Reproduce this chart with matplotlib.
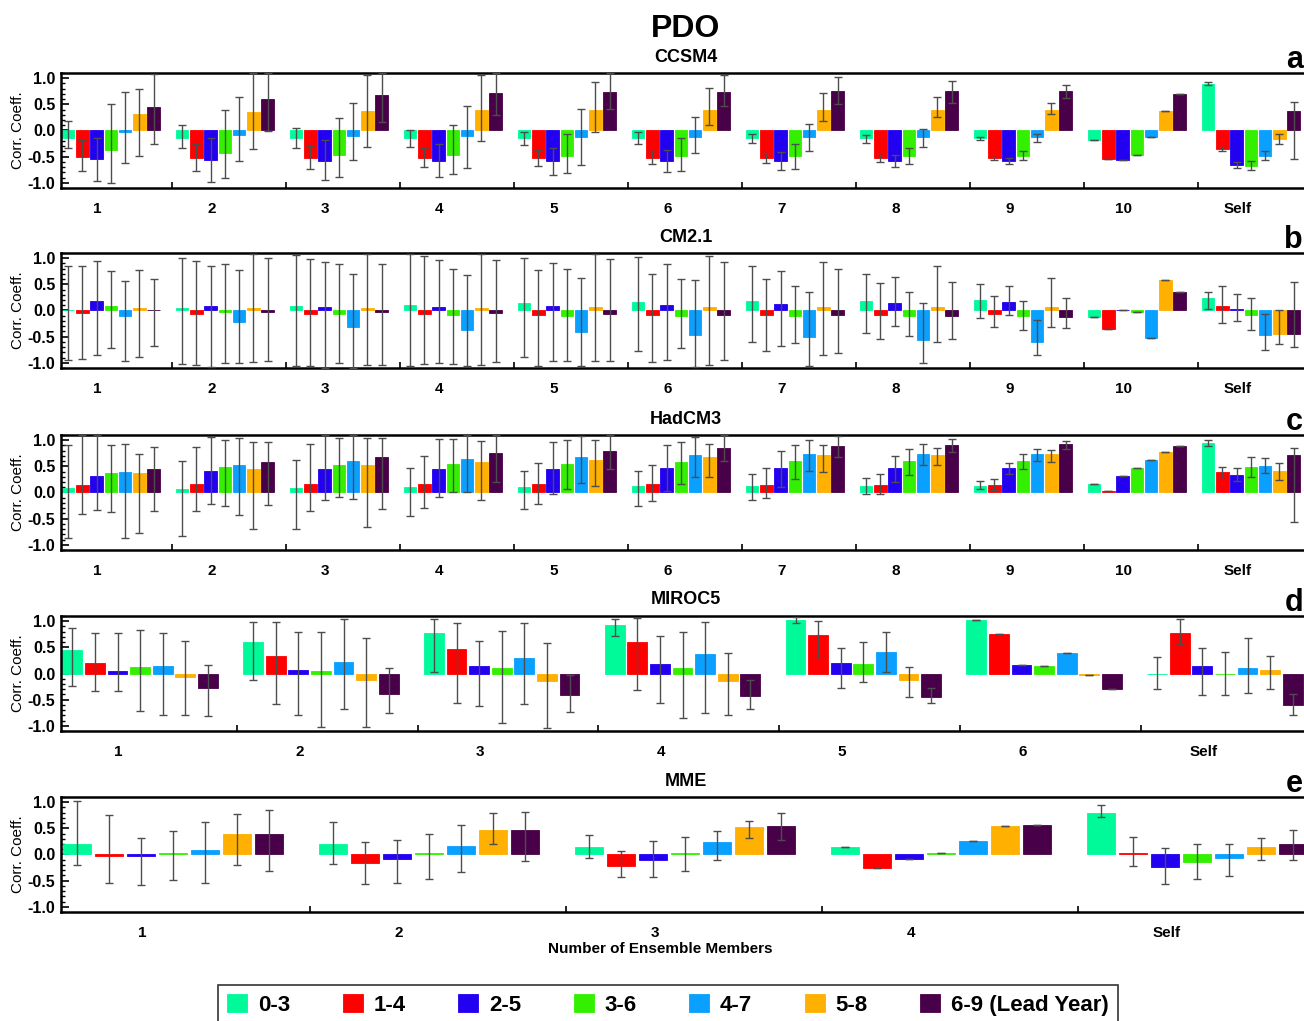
import matplotlib
matplotlib.use('Agg')
import matplotlib.pyplot as plt
import numpy as np
from matplotlib.ticker import MultipleLocator, FixedLocator

plt.rcParams['font.family'] = ['Liberation Sans', 'DejaVu Sans']
plt.rcParams['font.weight'] = 'bold'
plt.rcParams['axes.unicode_minus'] = False

# lead-year windows and colours
leads = ['0-3', '1-4', '2-5', '3-6', '4-7', '5-8', '6-9 (Lead Year)']
colors = ['#00FA9A', '#FF0000', '#2200F0', '#33F000', '#0AA0FF', '#FFB000', '#480048']

groups_11 = ['1', '2', '3', '4', '5', '6', '7', '8', '9', '10', 'Self']
groups_7 = ['1', '2', '3', '4', '5', '6', 'Self']
groups_5 = ['1', '2', '3', '4', 'Self']

# CCSM4
vals_a = [[-0.14, -0.51, -0.55, -0.37, -0.03, 0.31, 0.44],
          [-0.14, -0.52, -0.56, -0.43, -0.08, 0.35, 0.61],
          [-0.14, -0.52, -0.59, -0.46, -0.10, 0.38, 0.68],
          [-0.14, -0.52, -0.59, -0.47, -0.11, 0.39, 0.71],
          [-0.15, -0.52, -0.59, -0.48, -0.12, 0.39, 0.73],
          [-0.14, -0.53, -0.59, -0.48, -0.12, 0.39, 0.73],
          [-0.15, -0.53, -0.59, -0.48, -0.12, 0.39, 0.75],
          [-0.15, -0.53, -0.59, -0.48, -0.12, 0.39, 0.75],
          [-0.15, -0.53, -0.59, -0.49, -0.13, 0.39, 0.75],
          [-0.19, -0.54, -0.57, -0.47, -0.12, 0.37, 0.70],
          [0.89, -0.36, -0.66, -0.68, -0.48, -0.17, 0.37]]
hi_a = [[0.18, -0.18, -0.14, 0.50, 0.73, 0.79, 1.08],
        [0.10, -0.25, -0.15, 0.39, 0.64, 1.10, 1.10],
        [0.05, -0.30, -0.19, 0.24, 0.53, 1.06, 1.10],
        [0.01, -0.33, -0.26, 0.10, 0.46, 1.07, 1.10],
        [-0.03, -0.37, -0.33, -0.06, 0.42, 0.93, 1.10],
        [-0.02, -0.40, -0.37, -0.15, 0.26, 0.81, 1.06],
        [-0.06, -0.44, -0.41, -0.26, 0.13, 0.72, 1.02],
        [-0.08, -0.46, -0.47, -0.33, 0.03, 0.64, 0.95],
        [-0.12, -0.50, -0.52, -0.39, -0.06, 0.53, 0.87],
        [-0.19, -0.54, -0.57, -0.47, -0.12, 0.37, 0.70],
        [0.93, -0.32, -0.60, -0.59, -0.39, -0.06, 0.55]]
lo_a = [[-0.33, -0.77, -0.97, -1.00, -0.62, -0.48, -0.26],
        [-0.33, -0.78, -0.99, -0.91, -0.59, -0.35, -0.01],
        [-0.33, -0.73, -0.94, -0.89, -0.57, -0.32, 0.17],
        [-0.31, -0.70, -0.89, -0.84, -0.72, -0.20, 0.29],
        [-0.28, -0.68, -0.85, -0.81, -0.66, -0.03, 0.41],
        [-0.26, -0.65, -0.80, -0.77, -0.43, 0.10, 0.46],
        [-0.24, -0.63, -0.75, -0.73, -0.39, 0.19, 0.51],
        [-0.23, -0.60, -0.70, -0.64, -0.31, 0.26, 0.53],
        [-0.19, -0.57, -0.65, -0.56, -0.22, 0.31, 0.63],
        [-0.19, -0.54, -0.57, -0.47, -0.12, 0.37, 0.70],
        [0.87, -0.40, -0.71, -0.75, -0.56, -0.25, -0.55]]

# CM2.1
vals_b = [[0.00, -0.04, 0.18, 0.09, -0.11, 0.05, 0.00],
          [0.05, -0.06, 0.09, -0.03, -0.22, 0.04, -0.02],
          [0.08, -0.06, 0.07, -0.07, -0.31, 0.04, -0.03],
          [0.11, -0.06, 0.07, -0.08, -0.37, 0.04, -0.05],
          [0.14, -0.08, 0.08, -0.10, -0.42, 0.06, -0.07],
          [0.16, -0.08, 0.10, -0.11, -0.47, 0.06, -0.08],
          [0.18, -0.08, 0.12, -0.11, -0.51, 0.06, -0.09],
          [0.19, -0.08, 0.15, -0.11, -0.56, 0.06, -0.11],
          [0.20, -0.06, 0.17, -0.11, -0.61, 0.06, -0.13],
          [-0.12, -0.36, 0.01, -0.03, -0.53, 0.58, 0.36],
          [0.23, 0.09, 0.02, -0.08, -0.46, -0.45, -0.45]]
hi_b = [[0.85, 0.86, 0.94, 0.75, 0.56, 0.77, 0.61],
        [1.00, 0.94, 0.85, 0.89, 0.77, 1.08, 1.00],
        [1.06, 0.99, 0.92, 0.88, 0.70, 1.08, 0.88],
        [1.08, 1.05, 0.96, 0.80, 0.68, 1.08, 0.97],
        [1.01, 0.77, 0.90, 0.79, 0.63, 1.08, 0.98],
        [1.03, 0.70, 0.88, 0.61, 0.59, 1.04, 0.92],
        [0.85, 0.61, 0.75, 0.47, 0.36, 0.93, 0.80],
        [0.70, 0.53, 0.64, 0.35, 0.15, 0.85, 0.54],
        [0.51, 0.28, 0.47, 0.19, -0.18, 0.63, 0.23],
        [-0.12, -0.36, 0.01, -0.03, -0.53, 0.58, 0.36],
        [0.35, 0.47, 0.32, 0.23, -0.06, 0.01, 0.55]]
lo_b = [[-0.94, -0.92, -0.85, -0.72, -0.96, -0.89, -0.68],
        [-1.03, -1.04, -1.08, -1.01, -1.01, -0.99, -0.96],
        [-1.06, -1.06, -1.10, -1.01, -1.10, -1.04, -1.05],
        [-1.06, -1.03, -1.01, -1.03, -1.06, -1.04, -0.98],
        [-0.89, -1.06, -0.96, -0.96, -1.07, -0.97, -0.96],
        [-0.78, -0.98, -0.94, -0.72, -1.08, -1.04, -0.94],
        [-0.61, -0.78, -0.67, -0.62, -1.07, -0.85, -0.82],
        [-0.44, -0.54, -0.30, -0.48, -1.00, -0.60, -0.55],
        [-0.15, -0.32, -0.08, -0.37, -0.85, -0.31, -0.34],
        [-0.12, -0.36, 0.01, -0.03, -0.53, 0.58, 0.36],
        [0.03, -0.23, -0.20, -0.37, -0.75, -0.65, -0.69]]

# HadCM3
vals_c = [[0.08, 0.145, 0.32, 0.37, 0.40, 0.38, 0.44],
          [0.07, 0.17, 0.42, 0.48, 0.52, 0.45, 0.58],
          [0.09, 0.17, 0.45, 0.53, 0.60, 0.52, 0.68],
          [0.10, 0.17, 0.45, 0.55, 0.65, 0.59, 0.76],
          [0.11, 0.16, 0.45, 0.55, 0.68, 0.63, 0.80],
          [0.12, 0.16, 0.46, 0.58, 0.71, 0.68, 0.86],
          [0.12, 0.15, 0.46, 0.60, 0.73, 0.71, 0.89],
          [0.12, 0.15, 0.46, 0.60, 0.73, 0.72, 0.90],
          [0.12, 0.15, 0.46, 0.60, 0.74, 0.73, 0.92],
          [0.17, 0.02, 0.32, 0.46, 0.63, 0.77, 0.88],
          [0.94, 0.40, 0.33, 0.49, 0.51, 0.42, 0.71]]
hi_c = [[0.90, 1.10, 1.10, 0.91, 0.92, 0.74, 0.87],
        [0.61, 0.87, 1.06, 1.01, 1.04, 0.97, 0.96],
        [0.62, 0.92, 1.10, 1.05, 1.10, 1.05, 1.05],
        [0.47, 0.70, 1.03, 1.03, 1.10, 0.99, 1.10],
        [0.42, 0.57, 0.96, 1.01, 1.08, 1.00, 1.10],
        [0.42, 0.53, 0.90, 0.96, 1.06, 0.93, 1.10],
        [0.36, 0.46, 0.80, 0.91, 1.01, 0.90, 1.08],
        [0.28, 0.36, 0.70, 0.83, 0.93, 0.86, 1.03],
        [0.22, 0.25, 0.57, 0.74, 0.83, 0.81, 0.99],
        [0.17, 0.02, 0.32, 0.46, 0.63, 0.77, 0.88],
        [1.01, 0.49, 0.46, 0.67, 0.66, 0.57, 0.85]]
lo_c = [[-0.87, -0.41, -0.33, -0.37, -0.88, -0.77, -0.35],
        [-0.84, -0.36, -0.22, -0.25, -0.44, -0.69, -0.23],
        [-0.69, -0.36, -0.15, -0.09, -0.12, -0.66, -0.32],
        [-0.45, -0.29, -0.08, 0.00, 0.00, -0.14, 0.20],
        [-0.32, -0.22, -0.02, 0.07, 0.18, 0.12, 0.45],
        [-0.26, -0.17, 0.03, 0.16, 0.30, 0.29, 0.61],
        [-0.15, -0.10, 0.10, 0.26, 0.42, 0.40, 0.67],
        [-0.02, -0.02, 0.21, 0.34, 0.53, 0.53, 0.78],
        [0.06, 0.04, 0.35, 0.44, 0.61, 0.58, 0.83],
        [0.17, 0.02, 0.32, 0.46, 0.63, 0.77, 0.88],
        [0.88, 0.30, 0.22, 0.30, 0.37, 0.24, -0.56]]

# MIROC5
vals_d = [[0.45, 0.21, 0.04, 0.12, 0.15, -0.06, -0.28],
          [0.61, 0.33, 0.07, 0.05, 0.22, -0.12, -0.39],
          [0.78, 0.47, 0.14, 0.10, 0.29, -0.15, -0.41],
          [0.92, 0.60, 0.19, 0.11, 0.37, -0.14, -0.43],
          [1.02, 0.73, 0.21, 0.18, 0.41, -0.13, -0.44],
          [1.02, 0.75, 0.17, 0.15, 0.39, -0.03, -0.30],
          [0.00, 0.78, 0.14, -0.01, 0.11, 0.06, -0.61]]
hi_d = [[0.88, 0.77, 0.77, 0.84, 0.77, 0.63, 0.16],
        [0.99, 0.99, 0.80, 0.80, 1.04, 0.68, 0.11],
        [1.05, 0.97, 0.63, 0.82, 0.97, 0.58, -0.02],
        [1.04, 1.06, 0.71, 0.80, 0.99, 0.39, -0.12],
        [1.08, 1.00, 0.49, 0.60, 0.80, 0.13, -0.27],
        [1.02, 0.75, 0.17, 0.15, 0.39, -0.03, -0.30],
        [0.31, 1.04, 0.49, 0.41, 0.67, 0.33, -0.40]]
lo_d = [[-0.24, -0.34, -0.34, -0.71, -0.79, -0.80, -0.82],
        [-0.12, -0.58, -0.79, -1.03, -0.67, -1.02, -0.75],
        [0.03, -0.56, -0.62, -0.95, -0.58, -1.04, -0.74],
        [0.71, -0.31, -0.57, -0.86, -0.75, -0.79, -0.68],
        [0.96, 0.32, -0.27, -0.16, 0.03, -0.44, -0.56],
        [1.02, 0.75, 0.17, 0.15, 0.39, -0.03, -0.30],
        [-0.30, 0.56, -0.41, -0.41, -0.37, -0.29, -0.79]]

# MME
vals_e = [[0.21, -0.02, -0.02, 0.02, 0.09, 0.40, 0.39],
          [0.20, -0.16, -0.09, 0.02, 0.16, 0.47, 0.47],
          [0.15, -0.22, -0.10, 0.02, 0.23, 0.52, 0.54],
          [0.14, -0.25, -0.09, 0.03, 0.26, 0.55, 0.57],
          [0.79, 0.02, -0.23, -0.14, -0.07, 0.14, 0.21]]
hi_e = [[1.02, 0.75, 0.31, 0.44, 0.62, 0.77, 0.85],
        [0.62, 0.23, 0.28, 0.39, 0.57, 0.80, 0.82],
        [0.38, 0.07, 0.26, 0.33, 0.44, 0.65, 0.79],
        [0.14, -0.25, -0.09, 0.03, 0.26, 0.55, 0.57],
        [0.95, 0.33, 0.12, 0.21, 0.21, 0.31, 0.46]]
lo_e = [[-0.20, -0.55, -0.59, -0.48, -0.54, -0.21, -0.32],
        [-0.19, -0.56, -0.54, -0.46, -0.33, 0.20, -0.13],
        [-0.07, -0.44, -0.44, -0.32, -0.11, 0.32, 0.27],
        [0.14, -0.25, -0.09, 0.03, 0.26, 0.55, 0.57],
        [0.71, -0.22, -0.57, -0.47, -0.41, -0.11, -0.11]]

W, H = 1304, 1021
fig = plt.figure(figsize=(W / 100, H / 100), dpi=100)

panels = [('CCSM4', 'a', groups_11, vals_a, lo_a, hi_a, 14.25, 73),
          ('CM2.1', 'b', groups_11, vals_b, lo_b, hi_b, 14.25, 253),
          ('HadCM3', 'c', groups_11, vals_c, lo_c, hi_c, 14.25, 435),
          ('MIROC5', 'd', groups_7, vals_d, lo_d, hi_d, 22.6, 616),
          ('MME', 'e', groups_5, vals_e, lo_e, hi_e, 32.0, 797)]
ax_h = 115

handles = None
for name, letter, groups, vals, lo, hi, px, top in panels:
    n = len(groups)
    # axes run past the right edge of the figure, as in the original
    ax = fig.add_axes([61 / W, 1 - (top + ax_h) / H, n * 8 * px / W, ax_h / H])
    v = np.array(vals)
    l = np.array(lo)
    h = np.array(hi)
    bars = []
    for j in range(7):
        x = np.arange(n) * 8 + j + 0.5
        b = ax.bar(x, v[:, j], width=0.88, color=colors[j], edgecolor=colors[j],
                   linewidth=0.6, zorder=2)
        bars.append(b)
        yerr = [np.clip(v[:, j] - l[:, j], 0, None), np.clip(h[:, j] - v[:, j], 0, None)]
        ax.errorbar(x, v[:, j], yerr=yerr, fmt='none', ecolor='#4d4d4d',
                    elinewidth=1.0, capsize=3, capthick=1.0, zorder=3)
    if handles is None:
        handles = bars

    ax.set_xlim(0, n * 8)
    ax.set_ylim(-1.1, 1.1)
    ax.set_xticks(np.arange(n) * 8 + 2.55)
    ax.set_xticklabels(groups)
    ax.xaxis.set_minor_locator(FixedLocator(np.arange(1, n) * 8 - 0.22))
    ax.tick_params(axis='x', which='major', length=0, pad=10, labelsize=11)
    ax.tick_params(axis='x', which='minor', direction='in', length=4, width=1.2)
    ax.set_yticks([-1, -0.5, 0, 0.5, 1])
    ax.set_yticklabels(['-1.0', '-0.5', '0.0', '0.5', '1.0'])
    ax.yaxis.set_minor_locator(MultipleLocator(0.1))
    ax.tick_params(axis='y', which='major', direction='in', length=6, width=1.2,
                   labelsize=11.5, pad=4)
    ax.tick_params(axis='y', which='minor', direction='in', length=3, width=1.0)
    for s in ax.spines.values():
        s.set_linewidth(1.8)
    ax.set_ylabel('Corr. Coeff.', fontsize=11, labelpad=2)

    fig.text(686 / W, 1 - (top - 16) / H, name, ha='center', va='center', fontsize=13)
    fig.text(1303 / W, 1 - (top - 13) / H, letter, ha='right', va='center', fontsize=22)

fig.text(686 / W, 1 - 29 / H, 'PDO', ha='center', va='center', fontsize=23)
fig.text(660 / W, 1 - 949 / H, 'Number of Ensemble Members', ha='center', va='center',
         fontsize=11)

leg = fig.legend(handles, leads, loc='upper center', bbox_to_anchor=(668 / W, 1 - 985 / H),
                 borderaxespad=0, ncol=7, fontsize=16, frameon=True, fancybox=False,
                 edgecolor='black', handlelength=0.9, handleheight=0.9, handletextpad=0.5,
                 columnspacing=2.35, borderpad=0.4)
leg.get_frame().set_linewidth(1.2)

fig.savefig('out.png', dpi=100)
